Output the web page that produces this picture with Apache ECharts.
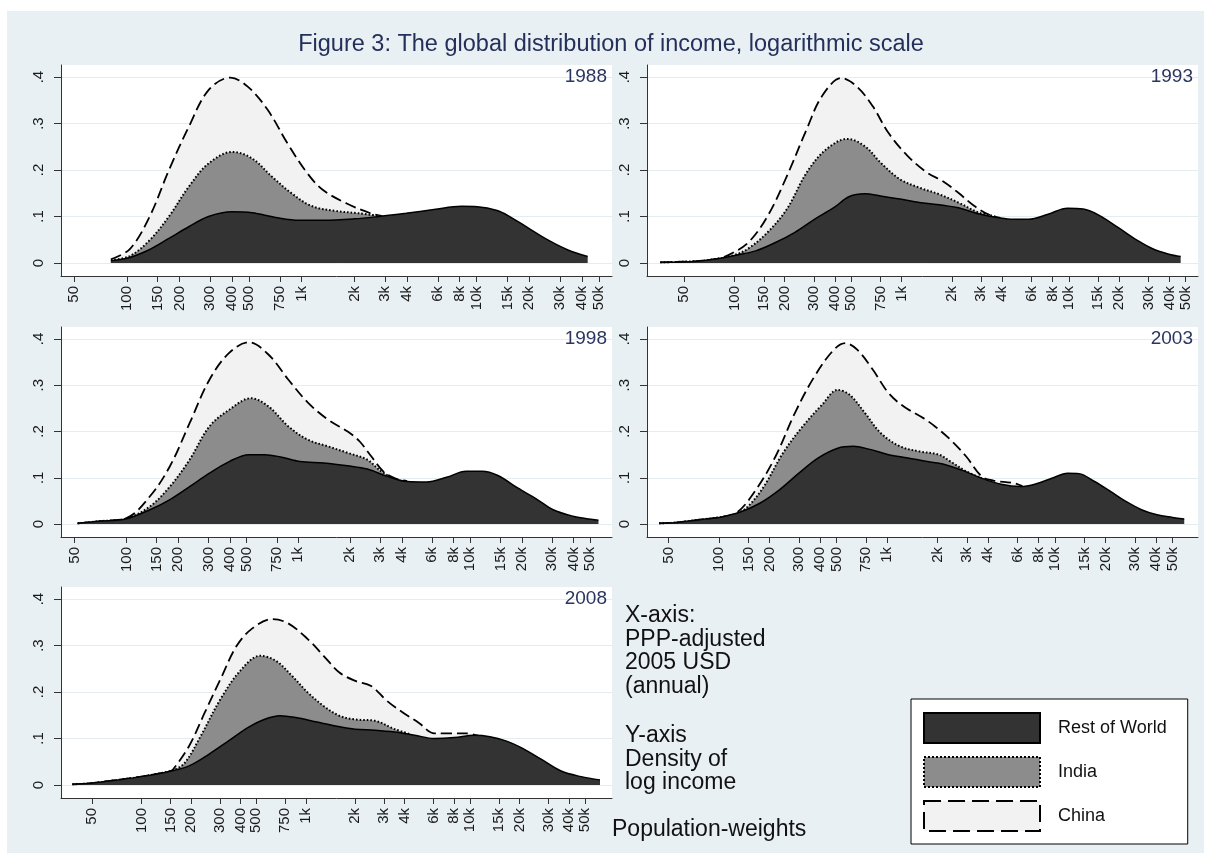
<!DOCTYPE html>
<html>
<head>
<meta charset="utf-8">
<script src="https://cdn.jsdelivr.net/npm/echarts@6/dist/echarts.min.js"></script>
<style>
html,body{margin:0;padding:0;background:#ffffff;}
#bg{position:absolute;left:7px;top:11px;width:1197px;height:842px;background:#e9f0f3;}
#c{position:absolute;left:0;top:0;width:1211px;height:860px;}
</style>
</head>
<body>
<div id="bg"></div>
<div id="c"></div>
<script>
// ---------- tick labels ----------
const xTickValues = [50,100,150,200,300,400,500,750,1000,2000,3000,4000,6000,8000,10000,15000,20000,30000,40000,50000];
const xTickLabels = ['50','100','150','200','300','400','500','750','1k','2k','3k','4k','6k','8k','10k','15k','20k','30k','40k','50k'];
const yTickValues = [0, 0.1, 0.2, 0.3, 0.4];
const yTickLabels = ['0', '.1', '.2', '.3', '.4'];
const years = ['1988', '1993', '1998', '2003', '2008'];
const seriesNames = ['Rest of World', 'India', 'China'];
const xRangeMin = [42, 30, 41.6, 37.3, 32.4];
const xRangeMax = [59500, 59300, 66900, 71000, 73000];

// ---------- 1988 (cumulative stack tops: RoW, RoW+India, RoW+India+China) ----------
const inc1988Row = [81,104,135,174,226,293,400,520,710,970,1320,2000,2750,3950,5700,8200,10100,13100,15300,19800,25700,33300,43200];
const den1988Row = [0.005,0.012,0.029,0.053,0.078,0.100,0.110,0.108,0.098,0.092,0.092,0.095,0.100,0.107,0.115,0.122,0.121,0.113,0.101,0.075,0.049,0.028,0.014];
const inc1988Ind = [81,104,135,174,226,293,401,520,674,875,1132,1550,2118,2800];
const den1988Ind = [0.006,0.015,0.049,0.100,0.164,0.214,0.239,0.225,0.186,0.150,0.123,0.112,0.107,0.101];
const inc1988Chn = [81,104,135,174,226,293,391,493,640,830,1077,1324,1810,2472,2892];
const den1988Chn = [0.008,0.030,0.100,0.200,0.293,0.372,0.399,0.379,0.329,0.257,0.193,0.157,0.128,0.107,0.101];

// ---------- 1993 ----------
const inc1993Row = [36,60,79,100,134,176,230,301,393,487,604,748,1000,1351,1766,2187,2862,3745,4640,5750,7520,9840,12200,15100,19800,25900,32000,39700,46700];
const den1993Row = [0.0014,0.004,0.009,0.016,0.026,0.044,0.066,0.094,0.119,0.143,0.149,0.144,0.137,0.129,0.124,0.119,0.106,0.098,0.094,0.094,0.105,0.118,0.116,0.103,0.076,0.048,0.030,0.019,0.014];
const inc1993Ind = [36,60,79,100,121,158,206,270,353,474,604,748,979,1280,1675,2187,2862,3365,3745];
const den1993Ind = [0.0014,0.004,0.009,0.017,0.031,0.066,0.116,0.194,0.244,0.267,0.251,0.216,0.180,0.162,0.148,0.130,0.109,0.103,0.098];
const inc1993Chn = [36,60,79,92,121,158,206,270,334,437,542,673,834,1089,1425,1766,2187,2714,3365,3900];
const den1993Chn = [0.0014,0.004,0.009,0.017,0.044,0.101,0.187,0.287,0.359,0.398,0.379,0.337,0.280,0.230,0.194,0.176,0.151,0.123,0.103,0.097];

// ---------- 1998 ----------
const inc1998Row = [52,69,100,137,179,233,304,396,516,638,788,1025,1410,1937,2523,3290,4285,5585,7280,9485,11700,14500,18900,24600,30400,39600,49000,55800];
const den1998Row = [0.0015,0.006,0.0115,0.031,0.053,0.081,0.110,0.135,0.150,0.150,0.145,0.135,0.132,0.126,0.119,0.103,0.092,0.091,0.101,0.114,0.114,0.105,0.078,0.053,0.031,0.017,0.011,0.008];
const inc1998Ind = [52,69,100,137,179,233,304,396,530,672,876,1141,1486,1937,2523,2960,3450];
const den1998Ind = [0.0015,0.006,0.012,0.038,0.081,0.139,0.211,0.247,0.272,0.254,0.211,0.182,0.168,0.154,0.139,0.117,0.101];
const inc1998Chn = [52,69,100,137,179,233,304,396,516,672,876,1141,1486,1937,2270,2663,3120,3656,4300];
const den1998Chn = [0.0015,0.006,0.013,0.060,0.125,0.218,0.312,0.370,0.393,0.366,0.312,0.262,0.226,0.200,0.179,0.146,0.114,0.099,0.093];

// ---------- 2003 ----------
const inc2003Row = [44,57,75,100,134,175,229,299,390,509,630,780,1023,1331,1738,2152,2808,3664,4783,6246,7742,9580,11900,13900,17200,21300,26400,32700,40500,50100,58800];
const den2003Row = [0.0015,0.0036,0.009,0.0144,0.026,0.045,0.074,0.110,0.143,0.164,0.168,0.162,0.150,0.143,0.135,0.130,0.116,0.099,0.086,0.081,0.087,0.099,0.110,0.109,0.092,0.071,0.049,0.031,0.020,0.0144,0.011];
const inc2003Ind = [44,57,75,100,127,149,185,241,315,411,509,597,740,916,1196,1561,2038,2392,2963,3664];
const den2003Ind = [0.0015,0.0036,0.009,0.0144,0.022,0.038,0.081,0.154,0.211,0.258,0.290,0.280,0.240,0.197,0.168,0.157,0.150,0.135,0.114,0.099];
const inc2003Chn = [44,57,75,100,127,166,217,283,370,483,566,665,823,1023,1259,1647,1933,2392,2963,3664,4300,5620,6400];
const den2003Chn = [0.0015,0.0036,0.009,0.0144,0.024,0.074,0.146,0.240,0.319,0.377,0.391,0.377,0.334,0.283,0.254,0.229,0.211,0.182,0.146,0.103,0.094,0.089,0.082];

// ---------- 2008 ----------
const inc2008Row = [38,49,72,100,147,195,257,339,447,558,697,870,1148,1516,2000,2640,3484,4600,6068,8010,10600,13200,16500,20600,27200,35800,47300,61700];
const den2008Row = [0.0015,0.0036,0.011,0.018,0.029,0.041,0.066,0.095,0.124,0.141,0.149,0.145,0.136,0.127,0.120,0.118,0.114,0.107,0.100,0.102,0.107,0.104,0.095,0.080,0.055,0.030,0.018,0.011];
const inc2008Ind = [38,49,72,100,147,156,184,230,303,400,528,659,823,1028,1283,1602,2000,2640,3484,4352];
const den2008Ind = [0.0015,0.0036,0.011,0.018,0.029,0.031,0.048,0.106,0.185,0.246,0.278,0.267,0.235,0.199,0.170,0.149,0.141,0.138,0.120,0.109];
const inc2008Chn = [38,49,72,100,147,156,195,243,303,379,473,624,779,1028,1283,1602,2000,2498,3120,3893,4860,6068,7580,9460,11200];
const den2008Chn = [0.0015,0.0036,0.011,0.018,0.029,0.034,0.084,0.156,0.228,0.299,0.337,0.357,0.348,0.314,0.278,0.242,0.224,0.213,0.181,0.156,0.134,0.111,0.111,0.111,0.106];

const panelData = [
  [[inc1988Row, den1988Row], [inc1988Ind, den1988Ind], [inc1988Chn, den1988Chn]],
  [[inc1993Row, den1993Row], [inc1993Ind, den1993Ind], [inc1993Chn, den1993Chn]],
  [[inc1998Row, den1998Row], [inc1998Ind, den1998Ind], [inc1998Chn, den1998Chn]],
  [[inc2003Row, den2003Row], [inc2003Ind, den2003Ind], [inc2003Chn, den2003Chn]],
  [[inc2008Row, den2008Row], [inc2008Ind, den2008Ind], [inc2008Chn, den2008Chn]]
];

// ---------- layout / style ----------
const FONT = "'Liberation Sans', Arial, Helvetica, sans-serif";
const gridBoxes = [
  {left: 61, top: 65, width: 551, height: 211},
  {left: 647, top: 65, width: 551, height: 211},
  {left: 61, top: 327, width: 551, height: 210},
  {left: 647, top: 327, width: 551, height: 210},
  {left: 61, top: 587, width: 551, height: 211}
];
const fills = ['#333333', '#8c8c8c', '#f2f2f2'];
const lineTypes = ['solid', [1.6, 2.0], [11, 5]];
const lineWidths = [1.5, 2, 1.8];
const zs = [4, 3, 2];

function xLabel(v) {
  let best = 0, bd = Infinity;
  xTickValues.forEach((t, i) => { const d = Math.abs(Math.log(v / t)); if (d < bd) { bd = d; best = i; } });
  return xTickLabels[best];
}
function yLabel(v) {
  let best = 0, bd = Infinity;
  yTickValues.forEach((t, i) => { const d = Math.abs(v - t); if (d < bd) { bd = d; best = i; } });
  return yTickLabels[best];
}

const grid = [], xAxis = [], yAxis = [], series = [];
gridBoxes.forEach((g, i) => {
  grid.push(Object.assign({show: true, backgroundColor: '#ffffff', borderWidth: 0, containLabel: false}, g));
  xAxis.push({
    type: 'log', logBase: 10, gridIndex: i, min: xRangeMin[i], max: xRangeMax[i],
    axisLine: {show: true, onZero: false, lineStyle: {color: '#333', width: 1}},
    axisTick: {show: true, length: 6, customValues: xTickValues, lineStyle: {color: '#333'}},
    axisLabel: {customValues: xTickValues, rotate: 90, margin: 10, fontSize: 15, color: '#1a1a1a', fontFamily: FONT, formatter: xLabel},
    splitLine: {show: false}, minorTick: {show: false}
  });
  yAxis.push({
    type: 'value', gridIndex: i, min: -0.028, max: 0.426, splitNumber: 4,
    axisLine: {show: true, lineStyle: {color: '#333', width: 1}},
    axisTick: {show: true, length: 7, customValues: yTickValues, lineStyle: {color: '#333'}},
    axisLabel: {customValues: yTickValues, rotate: 90, margin: 15, fontSize: 15, color: '#1a1a1a', fontFamily: FONT, formatter: yLabel},
    splitLine: {show: true, lineStyle: {color: '#e3ecef', width: 1}}
  });
  // draw China (back), India, RoW (front)
  [2, 1, 0].forEach(k => {
    const xs = panelData[i][k][0], ys = panelData[i][k][1];
    series.push({
      name: seriesNames[k], type: 'line', xAxisIndex: i, yAxisIndex: i,
      data: xs.map((x, j) => [x, ys[j]]),
      smooth: 0.35, symbol: 'none', silent: true, animation: false, z: zs[k],
      lineStyle: {color: '#000', width: lineWidths[k], type: lineTypes[k]},
      itemStyle: {color: fills[k]},
      areaStyle: {color: fills[k], opacity: 1}
    });
  });
});

const graphic = [];
graphic.push({type: 'text', z: 100, x: 611, y: 33, style: {text: 'Figure 3: The global distribution of income, logarithmic scale', font: '23.5px ' + FONT, fill: '#24305a', textAlign: 'center', textVerticalAlign: 'top'}});
gridBoxes.forEach((g, i) => {
  graphic.push({type: 'text', z: 100, x: g.left + g.width - 5, y: g.top + 2, style: {text: years[i], font: '19px ' + FONT, fill: '#2a3560', textAlign: 'right', textVerticalAlign: 'top'}});
});
graphic.push({type: 'text', z: 100, x: 625, y: 604, style: {text: 'X-axis:\nPPP-adjusted\n2005 USD\n(annual)', font: '23px ' + FONT, lineHeight: 23.5, fill: '#111', textAlign: 'left', textVerticalAlign: 'top'}});
graphic.push({type: 'text', z: 100, x: 625, y: 724, style: {text: 'Y-axis\nDensity of\nlog income', font: '23px ' + FONT, lineHeight: 23.5, fill: '#111', textAlign: 'left', textVerticalAlign: 'top'}});
graphic.push({type: 'text', z: 100, x: 612, y: 818, style: {text: 'Population-weights', font: '23px ' + FONT, fill: '#111', textAlign: 'left', textVerticalAlign: 'top'}});

const legend = {
  show: true, orient: 'vertical', left: 911, top: 699, selectedMode: false,
  itemWidth: 116, itemHeight: 30, itemGap: 12, icon: 'rect',
  padding: [13, 21, 12, 12], backgroundColor: '#ffffff', borderColor: '#000', borderWidth: 1,
  textStyle: {fontSize: 18, color: '#111', fontFamily: FONT, padding: [0, 0, 0, 13]},
  data: [
    {name: 'Rest of World', itemStyle: {color: '#333333', borderColor: '#000', borderWidth: 2, borderType: 'solid'}},
    {name: 'India', itemStyle: {color: '#8c8c8c', borderColor: '#000', borderWidth: 2, borderType: [2, 2]}},
    {name: 'China', itemStyle: {color: '#f2f2f2', borderColor: '#000', borderWidth: 2, borderType: [17, 7]}}
  ]
};

const chart = echarts.init(document.getElementById('c'), null, {renderer: 'canvas'});
chart.setOption({
  backgroundColor: 'transparent',
  animation: false,
  textStyle: {fontFamily: FONT},
  grid, xAxis, yAxis, series, legend, graphic
});
</script>
</body>
</html>
